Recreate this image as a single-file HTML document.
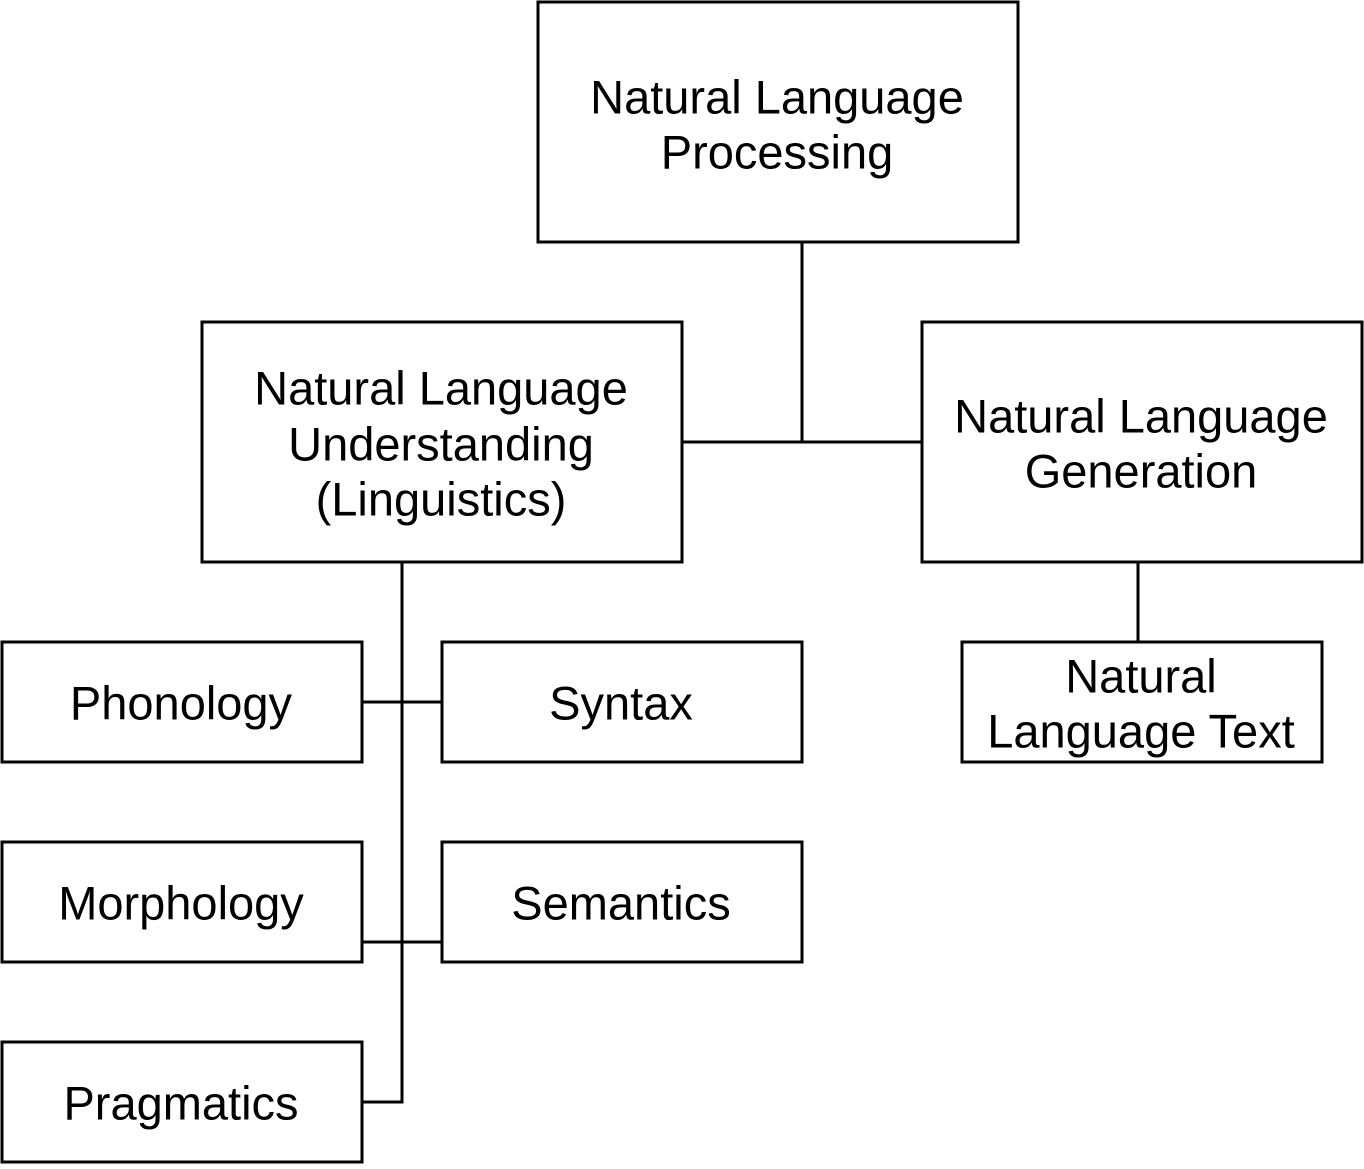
<!DOCTYPE html>
<html><head><meta charset="utf-8"><style>html,body{margin:0;padding:0;background:#fff}</style></head>
<body>
<svg width="1364" height="1164" viewBox="0 0 1364 1164" xmlns="http://www.w3.org/2000/svg" font-family="'Liberation Sans', Arial, sans-serif" font-size="47" text-anchor="middle">
<g fill="none" stroke="#000" stroke-width="3">
<rect x="538" y="2" width="480" height="240"/>
<rect x="202" y="322" width="480" height="240"/>
<rect x="922" y="322" width="440" height="240"/>
<rect x="962" y="642" width="360" height="120"/>
<rect x="2" y="642" width="360" height="120"/>
<rect x="442" y="642" width="360" height="120"/>
<rect x="2" y="842" width="360" height="120"/>
<rect x="442" y="842" width="360" height="120"/>
<rect x="2" y="1042" width="360" height="120"/>
<path d="M802 242V442M682 442H922M1138 562V642M402 562V1102H362M362 702H442M362 942H442"/>
</g>
<g fill="#000" dominant-baseline="central">
<text x="777" y="97">Natural Language</text>
<text x="777" y="152">Processing</text>
<text x="441" y="388">Natural Language</text>
<text x="441" y="444">Understanding</text>
<text x="441" y="499">(Linguistics)</text>
<text x="1141" y="416">Natural Language</text>
<text x="1141" y="471">Generation</text>
<text x="1141" y="676">Natural</text>
<text x="1141" y="731">Language Text</text>
<text x="181" y="703">Phonology</text>
<text x="621" y="703">Syntax</text>
<text x="181" y="903">Morphology</text>
<text x="621" y="903">Semantics</text>
<text x="181" y="1103">Pragmatics</text>
</g>
</svg>
</body></html>
